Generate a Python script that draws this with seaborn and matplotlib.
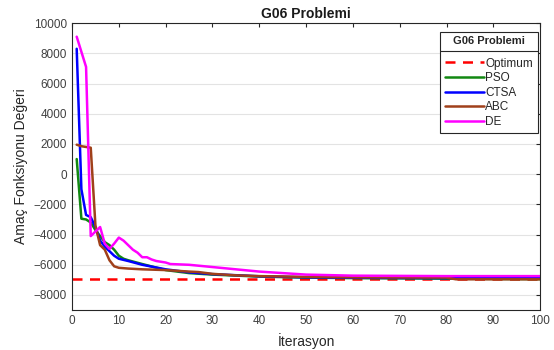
import numpy as np
import pandas as pd
import matplotlib
matplotlib.use('Agg')
import matplotlib.pyplot as plt
import seaborn as sns

# Convergence data (iteration vertices)
optimum_value = -6961.8

pso_iter = [1, 2, 3, 4, 5, 6, 7, 8, 9, 10, 11, 12, 15, 20, 25, 30, 40, 50, 60, 80, 100]
pso_val = [1000, -2950, -3000, -3200, -3700, -4100, -4500, -4700, -5000, -5400, -5600, -5700,
           -5950, -6350, -6550, -6650, -6780, -6850, -6880, -6920, -6950]

ctsa_iter = [1, 2, 3, 4, 5, 6, 7, 8, 9, 10, 12, 15, 20, 25, 30, 40, 50, 60, 80, 100]
ctsa_val = [8300, -1000, -2700, -2850, -3500, -4400, -4800, -5100, -5400, -5600, -5750,
            -6000, -6300, -6500, -6620, -6760, -6830, -6860, -6880, -6890]

abc_iter = [1, 2, 3, 4, 5, 6, 7, 8, 9, 10, 12, 15, 20, 25, 27, 30, 35, 40, 50, 60, 80, 82, 100]
abc_val = [1950, 1850, 1800, 1750, -3400, -4700, -5000, -5700, -6100, -6200, -6250, -6300,
           -6350, -6450, -6480, -6600, -6700, -6750, -6800, -6830, -6850, -6960, -6960]

de_iter = [1, 2, 3, 4, 5, 6, 7, 8, 9, 10, 11, 12, 13, 14, 15, 16, 17, 18, 20, 21, 25, 30,
           40, 50, 60, 80, 100]
de_val = [9100, 8100, 7100, -4100, -3800, -3500, -4600, -4950, -4600, -4200, -4400, -4700,
          -5000, -5200, -5500, -5500, -5650, -5750, -5850, -5950, -6000, -6150, -6450,
          -6650, -6720, -6750, -6750]

series_names = ['PSO', 'CTSA', 'ABC', 'DE']
series_colors = {'PSO': '#118811', 'CTSA': '#0000ff', 'ABC': '#a0401a', 'DE': '#ff00ff'}

frames = []
for name, it, val in zip(series_names, [pso_iter, ctsa_iter, abc_iter, de_iter],
                         [pso_val, ctsa_val, abc_val, de_val]):
    frames.append(pd.DataFrame({'İterasyon': it, 'Değer': val, 'Algoritma': name}))
df = pd.concat(frames, ignore_index=True)

sns.set_theme(style='white')
plt.rcParams['font.family'] = ['Liberation Sans', 'DejaVu Sans']

fig = plt.figure(figsize=(5.54, 3.5), dpi=100)
ax = fig.add_axes([0.130, 0.114, 0.845, 0.820])

ax.plot([0, 100], [optimum_value, optimum_value], color='#ff0000', lw=1.8,
        linestyle=(0, (4, 3)), label='Optimum')
sns.lineplot(data=df, x='İterasyon', y='Değer', hue='Algoritma', hue_order=series_names,
             palette=series_colors, linewidth=1.8, ax=ax, estimator=None, sort=False)

ax.set_xlim(0, 100)
ax.set_ylim(-9000, 10000)
ax.set_xticks(np.arange(0, 101, 10))
ax.set_yticks(np.arange(-8000, 10001, 2000))
ax.yaxis.grid(True, color='#e3e3e3', linewidth=0.8)
ax.xaxis.grid(False)
ax.set_axisbelow(True)
ax.tick_params(axis='both', direction='in', length=3, width=0.8, colors='#262626',
               labelsize=8.5, top=True, right=True, labelcolor='#404040')
for sp in ax.spines.values():
    sp.set_color('#262626')
    sp.set_linewidth(0.8)

ax.set_xlabel('İterasyon', fontsize=10, color='#262626')
ax.set_ylabel('Amaç Fonksiyonu Değeri', fontsize=10, color='#262626')
ax.set_title('G06 Problemi', fontsize=10, fontweight='bold', color='#1a1a1a', pad=4)

leg = ax.legend(title='G06 Problemi', loc='upper right', bbox_to_anchor=(1.0, 0.978),
                fontsize=8.5, title_fontproperties={'weight': 'bold', 'size': 8},
                frameon=True, fancybox=False, edgecolor='#262626', framealpha=1,
                handlelength=3.3, handletextpad=0.15, labelspacing=0.22,
                borderpad=0.4, borderaxespad=0.2)
leg.get_frame().set_linewidth(0.8)
leg._legend_box.sep = 8

# separator line under legend title
fig.canvas.draw()
bb = leg.get_window_extent().transformed(fig.transFigure.inverted())
tb = leg.get_title().get_window_extent().transformed(fig.transFigure.inverted())
ysep = tb.y0 - 0.012
fig.add_artist(plt.Line2D([bb.x0, bb.x1], [ysep, ysep], color='#262626', lw=0.8,
                          transform=fig.transFigure))

fig.savefig('out.png', dpi=100)
